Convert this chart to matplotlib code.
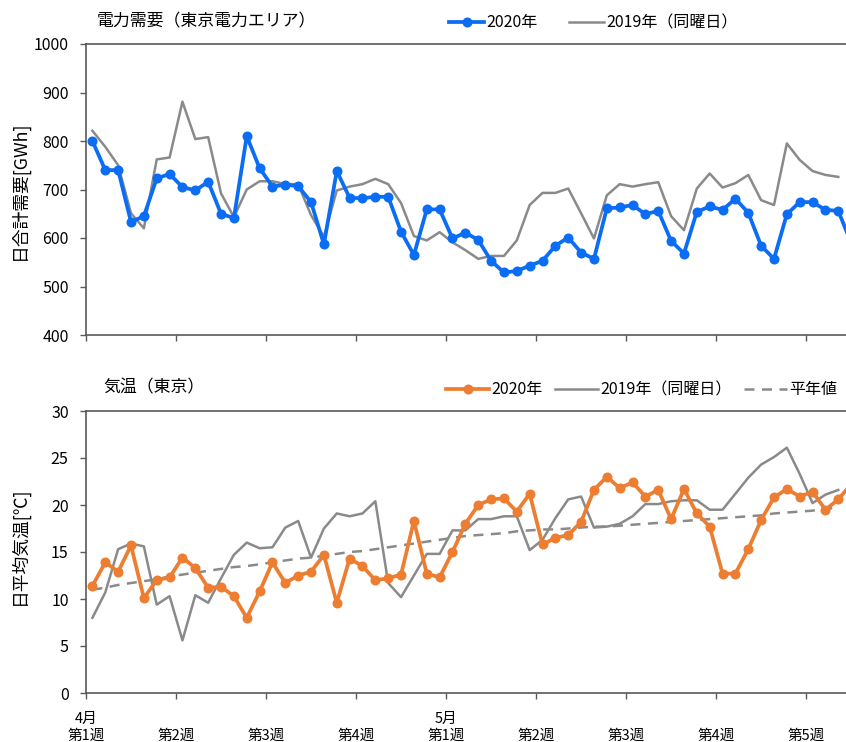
import matplotlib
matplotlib.use("Agg")
import matplotlib.pyplot as plt
import numpy as np

plt.rcParams['font.family'] = ['Noto Sans CJK JP', 'DejaVu Sans']

# daily values, Apr 1 onward (2019 = same weekday)
demand_2020 = [800, 740, 740, 633, 645, 723, 732, 705, 698, 716,
               650, 641, 810, 744, 706, 710, 707, 674, 587, 738,
               683, 682, 685, 685, 613, 565, 659, 659, 599, 611,
               596, 553, 529, 532, 543, 553, 584, 601, 570, 557,
               661, 663, 668, 649, 656, 594, 568, 654, 665, 658,
               681, 652, 584, 557, 649, 674, 674, 658, 656, 590]
demand_2019 = [821, 788, 750, 651, 620, 762, 766, 881, 804, 808,
               692, 643, 700, 717, 717, 711, 711, 647, 603, 698,
               706, 711, 722, 711, 672, 604, 595, 612, 591, 575,
               557, 563, 563, 595, 668, 693, 693, 702, 651, 599,
               688, 711, 706, 711, 715, 645, 616, 702, 733, 704,
               713, 730, 678, 668, 795, 761, 738, 730, 726]

temp_2020 = [11.4, 13.9, 12.9, 15.7, 10.1, 12.0, 12.3, 14.4, 13.3, 11.2,
             11.3, 10.3, 8.0, 10.8, 13.9, 11.7, 12.5, 12.9, 14.7, 9.6,
             14.3, 13.5, 12.0, 12.2, 12.6, 18.3, 12.7, 12.3, 15.0, 18.0,
             20.0, 20.6, 20.7, 19.3, 21.2, 15.8, 16.5, 16.8, 18.2, 21.6,
             23.0, 21.8, 22.4, 20.9, 21.6, 18.5, 21.7, 19.1, 17.7, 12.7,
             12.7, 15.3, 18.4, 20.8, 21.7, 20.9, 21.4, 19.5, 20.6, 22.2]
temp_2019 = [8.0, 10.7, 15.3, 15.9, 15.6, 9.4, 10.3, 5.6, 10.4, 9.6,
             12.2, 14.7, 16.0, 15.4, 15.5, 17.6, 18.3, 14.4, 17.5, 19.1,
             18.8, 19.1, 20.4, 11.7, 10.2, 12.5, 14.8, 14.8, 17.3, 17.3,
             18.5, 18.5, 18.8, 18.8, 15.2, 16.3, 18.6, 20.6, 20.9, 17.6,
             17.7, 18.0, 18.8, 20.1, 20.1, 20.4, 20.5, 20.5, 19.5, 19.5,
             21.2, 22.9, 24.3, 25.1, 26.1, 23.3, 20.2, 21.1, 21.6]
temp_normal = [11.0, 11.2, 11.5, 11.7, 11.9, 12.1, 12.4, 12.6, 12.8, 13.0,
               13.2, 13.4, 13.5, 13.7, 13.9, 14.1, 14.3, 14.4, 14.6, 14.8,
               15.0, 15.1, 15.3, 15.5, 15.7, 15.9, 16.1, 16.3, 16.5, 16.7,
               16.8, 16.9, 17.0, 17.2, 17.3, 17.4, 17.4, 17.5, 17.6, 17.7,
               17.7, 17.8, 17.9, 18.0, 18.1, 18.2, 18.3, 18.4, 18.5, 18.6,
               18.7, 18.8, 18.9, 19.1, 19.2, 19.3, 19.4, 19.6, 19.7]

week_labels = ["4月\n第1週", "\n第2週", "\n第3週", "\n第4週",
               "5月\n第1週", "\n第2週", "\n第3週", "\n第4週", "\n第5週"]

BLUE = "#0a6df3"
ORANGE = "#ed7d31"
GRAY = "#8a8a8a"
AXIS = "#595959"

fig = plt.figure(figsize=(8.46, 7.42), dpi=100)
W, H = 846, 742


def px_axes(left, top, right, bottom):
    return fig.add_axes([left / W, 1 - bottom / H, (right - left) / W, (bottom - top) / H])


ax1 = px_axes(86, 44, 846, 335)
ax2 = px_axes(86, 411, 846, 693)

xmax = 59.1
week_ticks = np.arange(0, 57, 7)

for ax in (ax1, ax2):
    ax.set_xlim(0, xmax)
    ax.set_xticks(week_ticks)
    for s in ("left", "bottom", "top"):
        ax.spines[s].set_color(AXIS)
        ax.spines[s].set_linewidth(1.2)
    ax.spines["right"].set_visible(False)
    ax.tick_params(direction="out", length=4.5, width=1, color=AXIS,
                   labelsize=11.5, labelcolor="black")
    ax.tick_params(axis="y", pad=8)

# power demand
x20 = np.arange(len(demand_2020)) + 0.5
x19 = np.arange(len(demand_2019)) + 0.5
ax1.plot(x20, demand_2020, color=BLUE, lw=2.7, marker="o", ms=6.2, label="2020年",
         zorder=3)
ax1.plot(x19, demand_2019, color=GRAY, lw=1.8, label="2019年（同曜日）", zorder=2)
ax1.set_ylim(400, 1000)
ax1.set_yticks(range(400, 1001, 100))
ax1.set_xticklabels([])

# temperature
t20 = np.arange(len(temp_2020)) + 0.5
t19 = np.arange(len(temp_2019)) + 0.5
tn = np.arange(len(temp_normal)) + 0.5
ax2.plot(t20, temp_2020, color=ORANGE, lw=2.7, marker="o", ms=6.2, label="2020年", zorder=3)
ax2.plot(t19, temp_2019, color=GRAY, lw=1.8, label="2019年（同曜日）", zorder=2)
ax2.plot(tn, temp_normal, color=GRAY, lw=1.8, ls=(0, (4, 3)), label="平年値", zorder=2)
ax2.set_ylim(0, 30)
ax2.set_yticks(range(0, 31, 5))
ax2.set_xticklabels(week_labels, fontsize=10.5, linespacing=1.25)
ax2.tick_params(axis="x", pad=9)

fig.text(97 / W, 1 - 21 / H, "電力需要（東京電力エリア）", fontsize=12.2, va="center")
fig.text(103 / W, 1 - 387 / H, "気温（東京）", fontsize=12.2, va="center")
fig.text(19 / W, 1 - 190 / H, "日合計需要[GWh]", fontsize=12.8, rotation=90,
         va="center", ha="center")
fig.text(19 / W, 1 - 546 / H, "日平均気温[℃]", fontsize=12.8, rotation=90,
         va="center", ha="center")

fig.legend(*ax1.get_legend_handles_labels(), loc="center left",
           bbox_to_anchor=(449 / W, 1 - 23 / H), frameon=False, ncol=2,
           fontsize=11.5, handlelength=2.2, handletextpad=0.12, columnspacing=2.0,
           borderaxespad=0, borderpad=0)
fig.legend(*ax2.get_legend_handles_labels(), loc="center left",
           bbox_to_anchor=(446 / W, 1 - 390 / H), frameon=False, ncol=3,
           fontsize=11.5, handlelength=2.7, handletextpad=0.12, columnspacing=0.8,
           borderaxespad=0, borderpad=0)

fig.savefig("out.png", dpi=100)
